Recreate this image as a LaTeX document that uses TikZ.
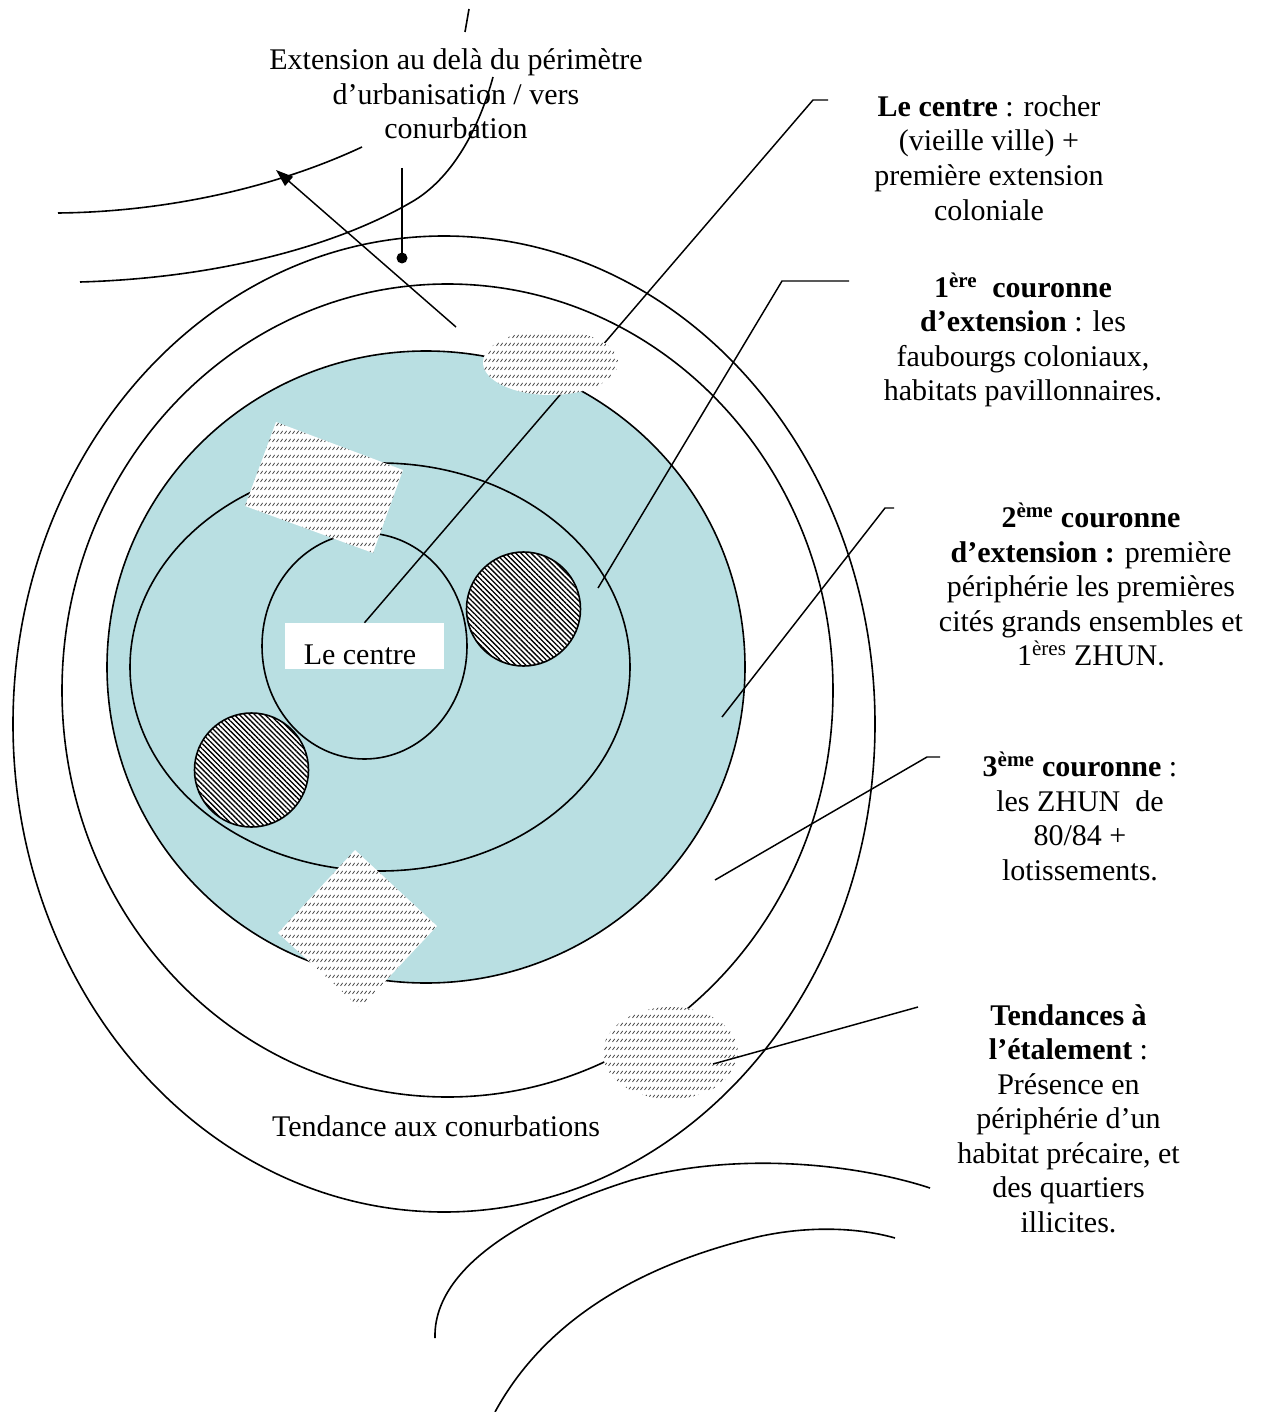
\documentclass[tikz,border=0pt]{standalone}
\usepackage{fontspec}
\setmainfont{Liberation Serif}
\usetikzlibrary{arrows.meta,patterns,patterns.meta}
\definecolor{zoneblue}{RGB}{185,223,226}
\pgfdeclarepatternformonly{dashhatch}{\pgfqpoint{-0.5pt}{-0.5pt}}{\pgfqpoint{3.5pt}{6.5pt}}{\pgfqpoint{3pt}{6pt}}{%
  \pgfsetlinewidth{0.6pt}%
  \pgfpathmoveto{\pgfqpoint{0.4pt}{1.6pt}}%
  \pgfpathlineto{\pgfqpoint{2.0pt}{3.8pt}}%
  \pgfusepath{stroke}}
\begin{document}
\begin{tikzpicture}[x=0.75pt,y=-0.75pt,
  lbl/.style={align=center, font=\fontsize{22.5}{25.9}\selectfont, inner sep=0pt},
  ring/.style={draw=black, line width=1.2pt},
  leader/.style={draw=black, line width=1.1pt},
  lighthatch/.style={preaction={fill=white}, pattern=dashhatch, pattern color=black!70},
  darkhatch/.style={draw=black, line width=1.2pt, preaction={fill=white},
    pattern={Lines[angle=-45,distance=2.7pt,line width=1pt]}, pattern color=black},
  boxlbl/.style={fill=white, inner sep=0pt, text height=30.75pt, text depth=3.75pt,
    font=\fontsize{22.5}{25.9}\selectfont}
]
\path[use as bounding box, fill=white] (0,0) rectangle (1263,1412);

% outer rings
\draw[ring] (444,724) ellipse [x radius=431, y radius=488];
\draw[ring] (447.5,690.5) ellipse [x radius=385.5, y radius=406.5];

% upper-left curves
\draw[ring] (58,213) .. controls (160,212) and (270,190) .. (362,147);
\draw[ring] (80,282) .. controls (220,278) and (340,245) .. (415,200)
                     .. controls (455,175) and (480,125) .. (493,77);
\draw[ring] (465,32) -- (469,9);

% bottom-right curves
\draw[ring] (435,1338) .. controls (433,1270) and (520,1215) .. (632,1180)
                       .. controls (740,1150) and (860,1165) .. (930,1188);
\draw[ring] (495,1412) .. controls (545,1320) and (640,1265) .. (757,1237)
                       .. controls (810,1225) and (860,1228) .. (895,1238);

% extension label, pin and arrow
\node[lbl] (ext) at (456,94) {Extension au delà du périmètre\\d’urbanisation / vers\\conurbation};
\coordinate (extfoot) at (402,168);
\coordinate (extdot) at (402,258);
\draw[leader] (extfoot) -- (extdot);
\fill (extdot) circle [radius=5.5];
\coordinate (arrS) at (456,327);
\coordinate (arrE) at (276,170);
\draw[leader,-{Triangle[length=13pt,width=9pt]}] (arrS) -- (arrE);

% blue zone and inner rings
\draw[ring, fill=zoneblue] (426,667) ellipse [x radius=319, y radius=316];
\draw[ring] (380,667) ellipse [x radius=250, y radius=204];
\draw[ring] (364.5,646) ellipse [x radius=102.5, y radius=113];

% centre box
\node[boxlbl] (lecentre) at (364.5,646) {\kern14.25pt Le centre\kern21pt};

% leader lines
\coordinate (c1) at (813,100); \coordinate (c1e) at (828,100);
\draw[leader] (lecentre.north) -- (c1) -- (c1e);
\coordinate (p1) at (598,588); \coordinate (c2) at (782,281); \coordinate (c2e) at (849,281);
\draw[leader] (p1) -- (c2) -- (c2e);
\coordinate (p2) at (722,717); \coordinate (c3) at (885,508); \coordinate (c3e) at (894,508);
\draw[leader] (p2) -- (c3) -- (c3e);
\coordinate (p3) at (715,880); \coordinate (c4) at (927,757); \coordinate (c4e) at (940,757);
\draw[leader] (p3) -- (c4) -- (c4e);

% light hatched patches
\path[lighthatch] (550.5,362.5) ellipse [x radius=67.5, y radius=32.5];
\path[lighthatch] (670.5,1053) ellipse [x radius=67.5, y radius=46];
\path[lighthatch] (276,422) -- (403,470) -- (373,553) -- (245,506) -- cycle;
\path[lighthatch] (355,850) -- (437,926) -- (360,1008) -- (278,933) -- cycle;

\coordinate (p4) at (713,1064); \coordinate (c5) at (918,1007);
\draw[leader] (p4) -- (c5);

% dark hatched circles
\path[darkhatch] (523.5,609) circle [radius=57];
\path[darkhatch] (251.5,770) circle [radius=57];

% right-hand labels
\node[lbl] (tcentre) at (989,158) {\textbf{Le centre} : rocher\\(vieille ville) +\\première extension\\coloniale};
\node[lbl] (tc1) at (1023,340) {\textbf{1\textsuperscript{ère}\ \ couronne}\\\textbf{d’extension} : les\\faubourgs coloniaux,\\habitats pavillonnaires.};
\node[lbl] (tc2) at (1091,584.5) {\textbf{2\textsuperscript{ème} couronne}\\\textbf{d’extension :} première\\périphérie les premières\\cités grands ensembles et\\1\textsuperscript{ères} ZHUN.};
\node[lbl] (tc3) at (1080,816.5) {\textbf{3\textsuperscript{ème} couronne} :\\les ZHUN\ \ de\\80/84 +\\lotissements.};
\node[lbl] (tc4) at (1068.5,1118.5) {\textbf{Tendances à}\\\textbf{l’étalement} :\\Présence en\\périphérie d’un\\habitat précaire, et\\des quartiers\\illicites.};
\node[lbl] (tconurb) at (436,1126) {Tendance aux conurbations};
\end{tikzpicture}
\end{document}
